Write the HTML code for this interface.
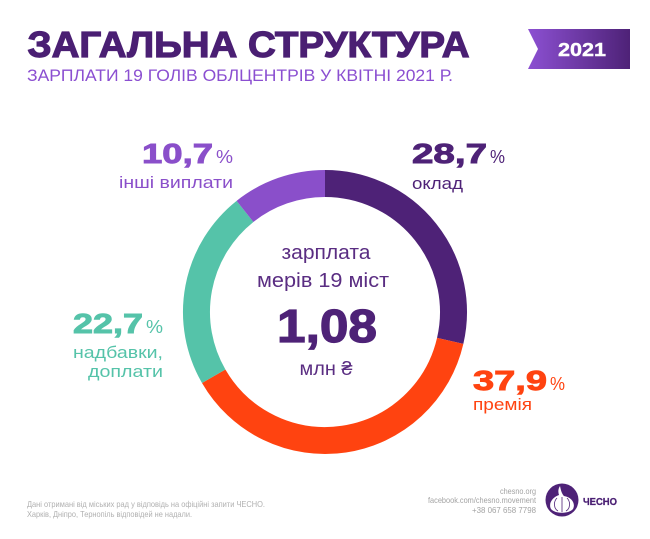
<!DOCTYPE html>
<html><head><meta charset="utf-8"><style>
html,body{margin:0;padding:0;background:#fff;}
svg{display:block;}
text{font-family:"Liberation Sans","DejaVu Sans",sans-serif;}
</style></head><body>
<svg width="650" height="539" viewBox="0 0 650 539" xmlns="http://www.w3.org/2000/svg">
<defs>
<linearGradient id="bg" x1="0" x2="1" y1="0" y2="0">
<stop offset="0" stop-color="#8c50d2"/>
<stop offset="1" stop-color="#4e2277"/>
</linearGradient>
</defs>
<rect width="650" height="539" fill="#fff"/>
<!-- title -->
<text x="27.5" y="57" font-size="36" font-weight="bold" fill="#4a1f73" stroke="#4a1f73" stroke-width="1.2" textLength="442" lengthAdjust="spacingAndGlyphs">ЗАГАЛЬНА СТРУКТУРА</text>
<text x="27" y="81" font-size="16.5" fill="#8b4fd1" textLength="426" lengthAdjust="spacingAndGlyphs">ЗАРПЛАТИ 19 ГОЛІВ ОБЛЦЕНТРІВ У КВІТНІ 2021 Р.</text>
<!-- badge -->
<polygon points="528,29 630,29 630,69 528,69 538,49" fill="url(#bg)"/>
<text x="582" y="56" font-size="18.5" font-weight="bold" fill="#fff" stroke="#fff" stroke-width="0.4" text-anchor="middle" textLength="48" lengthAdjust="spacingAndGlyphs">2021</text>
<!-- donut -->
<g transform="translate(325,312)" fill="none" stroke-width="27">
<path d="M0,-128.5 A128.5,128.5 0 0 1 125.2,28.9" stroke="#4e2277"/>
<path d="M125.2,28.9 A128.5,128.5 0 0 1 -111.3,64.25" stroke="#ff4310"/>
<path d="M-111.3,64.25 A128.5,128.5 0 0 1 -80.0,-100.6" stroke="#55c3a9"/>
<path d="M-80.0,-100.6 A128.5,128.5 0 0 1 0,-128.5" stroke="#8a4fca"/>
</g>
<!-- center text -->
<text x="326" y="259" font-size="20" fill="#5a2d82" text-anchor="middle" textLength="89" lengthAdjust="spacingAndGlyphs">зарплата</text>
<text x="323" y="287" font-size="20" fill="#5a2d82" text-anchor="middle" textLength="132" lengthAdjust="spacingAndGlyphs">мерів 19 міст</text>
<text x="327" y="342" font-size="46" font-weight="bold" fill="#4e2277" stroke="#4e2277" stroke-width="1.2" text-anchor="middle" textLength="100" lengthAdjust="spacingAndGlyphs">1,08</text>
<text x="326" y="375" font-size="19" fill="#5a2d82" text-anchor="middle" textLength="53" lengthAdjust="spacingAndGlyphs">млн ₴</text>
<!-- 10,7 -->
<text x="142" y="163" font-size="28" font-weight="bold" fill="#8a4fca" stroke="#8a4fca" stroke-width="0.9" textLength="71" lengthAdjust="spacingAndGlyphs">10,7</text>
<text x="216" y="163" font-size="18" fill="#8a4fca" textLength="17" lengthAdjust="spacingAndGlyphs">%</text>
<text x="119" y="188" font-size="17" fill="#8a4fca" textLength="114" lengthAdjust="spacingAndGlyphs">інші виплати</text>
<!-- 28,7 -->
<text x="412" y="163" font-size="28" font-weight="bold" fill="#4e2277" stroke="#4e2277" stroke-width="0.9" textLength="75" lengthAdjust="spacingAndGlyphs">28,7</text>
<text x="490" y="163" font-size="18" fill="#4e2277" textLength="15" lengthAdjust="spacingAndGlyphs">%</text>
<text x="412" y="189" font-size="17" fill="#4e2277" textLength="51" lengthAdjust="spacingAndGlyphs">оклад</text>
<!-- 22,7 -->
<text x="73" y="333" font-size="28" font-weight="bold" fill="#55c3a9" stroke="#55c3a9" stroke-width="0.9" textLength="70" lengthAdjust="spacingAndGlyphs">22,7</text>
<text x="146" y="333" font-size="18" fill="#55c3a9" textLength="17" lengthAdjust="spacingAndGlyphs">%</text>
<text x="73" y="358" font-size="17" fill="#55c3a9" textLength="90" lengthAdjust="spacingAndGlyphs">надбавки,</text>
<text x="88" y="377" font-size="17" fill="#55c3a9" textLength="75" lengthAdjust="spacingAndGlyphs">доплати</text>
<!-- 37,9 -->
<text x="473" y="390" font-size="28" font-weight="bold" fill="#ff4310" stroke="#ff4310" stroke-width="0.9" textLength="74" lengthAdjust="spacingAndGlyphs">37,9</text>
<text x="550" y="390" font-size="18" fill="#ff4310" textLength="15" lengthAdjust="spacingAndGlyphs">%</text>
<text x="473" y="410" font-size="17" fill="#ff4310" textLength="59" lengthAdjust="spacingAndGlyphs">премія</text>
<!-- footer left -->
<text x="27" y="507" font-size="8.5" fill="#b0b0b0" textLength="238" lengthAdjust="spacingAndGlyphs">Дані отримані від міських рад у відповідь на офіційні запити ЧЕСНО.</text>
<text x="27" y="517" font-size="8.5" fill="#b0b0b0" textLength="165" lengthAdjust="spacingAndGlyphs">Харків, Дніпро, Тернопіль відповідей не надали.</text>
<!-- footer right -->
<text x="536" y="494" font-size="8.5" fill="#a3a3a3" text-anchor="end" textLength="36" lengthAdjust="spacingAndGlyphs">chesno.org</text>
<text x="536" y="503" font-size="8.5" fill="#a3a3a3" text-anchor="end" textLength="108" lengthAdjust="spacingAndGlyphs">facebook.com/chesno.movement</text>
<text x="536" y="513" font-size="8.5" fill="#a3a3a3" text-anchor="end" textLength="64" lengthAdjust="spacingAndGlyphs">+38 067 658 7798</text>
<!-- logo -->
<circle cx="562" cy="500" r="16.5" fill="#4e2277"/>
<path d="M560,486 C561,491 562,494 564,496 C571,497 576,503 573,509 C569,514 555,514 551,509 C548,503 553,497 559,495 C558,492 558,489 560,486 Z" fill="#fff"/>
<path d="M562,497 L562,512 M557,498 C553,502 554,509 558,511 M567,498 C571,502 570,509 566,511" stroke="#4e2277" stroke-width="0.8" fill="none"/>
<text x="583" y="505" font-size="10.5" font-weight="bold" fill="#4a1f73" stroke="#4a1f73" stroke-width="0.3" textLength="34" lengthAdjust="spacingAndGlyphs">ЧЕСНО</text>
</svg>
</body></html>
